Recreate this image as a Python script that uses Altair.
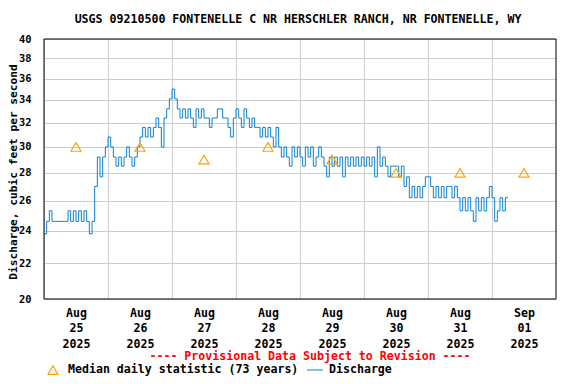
import altair as alt
import pandas as pd

# Hourly discharge readings (cfs), one list per day
aug25 = [23.8, 24.6, 25.3, 24.6, 24.6, 24.6, 24.6, 24.6, 24.6, 25.3, 24.6, 25.3,
         24.6, 25.3, 24.6, 25.3, 24.6, 23.8, 24.6, 27.0, 29.2, 27.7, 29.2, 30.0]
aug26 = [30.8, 30.0, 29.2, 28.5, 29.2, 28.5, 29.2, 30.0, 29.2, 28.5, 29.2, 30.0,
         30.8, 31.6, 30.8, 31.6, 30.8, 31.6, 32.4, 31.6, 30.0, 32.4, 33.2, 34.1]
aug27 = [35.0, 34.1, 33.2, 32.4, 33.2, 32.4, 33.2, 32.4, 31.6, 33.2, 32.4, 33.2,
         32.4, 32.4, 31.6, 32.4, 32.4, 33.2, 33.2, 32.4, 32.4, 31.6, 30.8, 32.4]
aug28 = [33.2, 32.4, 31.6, 33.2, 32.4, 31.6, 32.4, 31.6, 31.6, 30.8, 31.6, 30.8,
         31.6, 30.8, 30.0, 31.6, 30.0, 29.2, 30.0, 29.2, 28.5, 30.0, 29.2, 30.0]
aug29 = [29.2, 28.5, 30.0, 29.2, 30.0, 28.5, 29.2, 30.0, 29.2, 28.5, 27.7, 29.2,
         28.5, 29.2, 28.5, 29.2, 27.7, 29.2, 28.5, 29.2, 28.5, 29.2, 28.5, 29.2]
aug30 = [28.5, 29.2, 28.5, 29.2, 27.7, 30.0, 28.5, 29.2, 28.5, 27.7, 28.5, 28.5,
         28.5, 27.7, 28.5, 27.0, 27.7, 26.2, 27.0, 26.2, 27.0, 26.2, 27.0, 27.7]
aug31 = [27.7, 27.0, 26.2, 27.0, 26.2, 27.0, 26.2, 27.0, 27.0, 26.2, 27.0, 26.2,
         25.3, 26.2, 25.3, 26.2, 25.3, 24.6, 26.2, 25.3, 26.2, 25.3, 26.2, 27.0]
sep01 = [26.2, 24.6, 25.3, 26.2, 25.3, 26.2, 26.2]

# Median daily statistic (73 years), one per day at noon
median_days = ["2025-08-25", "2025-08-26", "2025-08-27", "2025-08-28",
               "2025-08-29", "2025-08-30", "2025-08-31", "2025-09-01"]
median_vals = [30, 30, 29, 30, 29, 28, 28, 28]

y_ticks = [20, 22, 24, 26, 28, 30, 32, 34, 36, 38, 40]

FONT = "DejaVu Sans Mono"
FS = 11.6

q = aug25 + aug26 + aug27 + aug28 + aug29 + aug30 + aug31 + sep01
times = pd.date_range("2025-08-25T00:00:00", periods=len(q), freq="h", tz="UTC")
flow = pd.DataFrame({"t": times.strftime("%Y-%m-%dT%H:%M:%SZ"), "q": q})
med = pd.DataFrame({"t": [d + "T12:00:00Z" for d in median_days], "q": median_vals})

def ms(s):
    return int(pd.Timestamp(s, tz="UTC").value // 10**6)

mid_ms = [ms(d) for d in median_days]
x_dom = [ms("2025-08-25"), ms("2025-09-02")]

W, H = 512, 260

x_enc = alt.X(
    "t:T",
    scale=alt.Scale(type="utc", domain=x_dom),
    axis=alt.Axis(
        values=mid_ms, grid=True, gridColor="#cccccc", ticks=False, domain=False,
        labelOffset=32, labelFlush=False, labelOverlap=False, labelBound=False,
        labelExpr="[utcFormat(datum.value, '%b'), utcFormat(datum.value, '%d'), utcFormat(datum.value, '%Y')]",
        labelFont=FONT, labelFontSize=FS, labelFontWeight="bold", labelColor="black",
        labelPadding=8, labelLineHeight=15.5, labelAngle=0, labelAlign="center",
        labelBaseline="top", title=None,
    ),
)
y_enc = alt.Y(
    "q:Q",
    scale=alt.Scale(type="log", domain=[20, 40], nice=False),
    axis=alt.Axis(
        values=y_ticks, grid=True, gridColor="#cccccc", ticks=False, domain=False,
        labelFont=FONT, labelFontSize=10.4, labelFontWeight="bold", labelColor="black",
        labelPadding=13, format="d", title=None,
    ),
)

line = alt.Chart(flow).mark_line(
    interpolate="step-after", color="#0a80cf", strokeWidth=1
).encode(x=x_enc, y=y_enc)

tri = alt.Chart(med).mark_point(
    shape="triangle-up", filled=False, color="#ffa500", size=100, strokeWidth=1.2, opacity=1
).encode(x="t:T", y="q:Q")

one = pd.DataFrame({"k": [0]})

frame = alt.Chart(one).mark_rect(fill="transparent", stroke="black", strokeWidth=1).encode(
    x=alt.value(0), x2=alt.value(W), y=alt.value(0), y2=alt.value(H)
)

def txt(s, x, y, color="black", align="center", angle=0, baseline="middle", size=FS):
    return alt.Chart(one).mark_text(
        text=s, font=FONT, fontSize=size, fontWeight="bold", color=color,
        align=align, baseline=baseline, angle=angle,
    ).encode(x=alt.value(x), y=alt.value(y))

title = txt("USGS 09210500 FONTENELLE C NR HERSCHLER RANCH, NR FONTENELLE, WY", 254, -19)
ytitle = txt("Discharge, cubic feet per second", -27, 133, angle=270,
             baseline="alphabetic", size=11.2)
prov = txt("---- Provisional Data Subject to Revision ----", 266, 318, color="#ff0000")
leg1 = txt("Median daily statistic (73 years)", 24, 331, align="left")
leg2 = txt("Discharge", 285, 331, align="left")

leg_tri = alt.Chart(one).mark_point(
    shape="triangle-up", filled=False, color="#ffa500", size=100, strokeWidth=1.2, opacity=1
).encode(x=alt.value(9), y=alt.value(331))
leg_line = alt.Chart(one).mark_rule(color="#0a80cf", strokeWidth=1).encode(
    x=alt.value(263), x2=alt.value(279), y=alt.value(331)
)

chart = alt.layer(
    line, tri, frame, title, ytitle, prov, leg_tri, leg1, leg_line, leg2
).properties(
    width=W, height=H,
    autosize=alt.AutoSizeParams(type="none"),
    padding={"left": 36, "top": 31, "right": 8, "bottom": 77},
    background="white",
).configure_view(stroke=None)

chart.save("out.html", embed_options={"renderer": "svg", "actions": False})
